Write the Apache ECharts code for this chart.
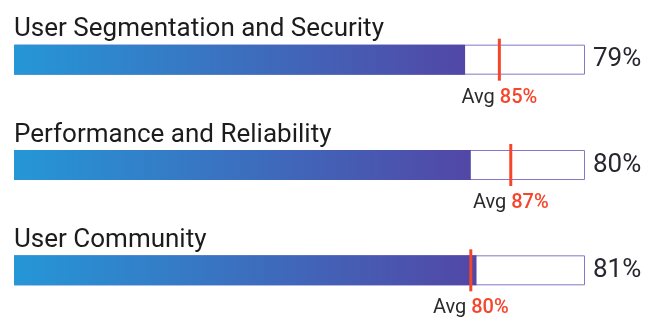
<!DOCTYPE html>
<html>
<head>
<meta charset="utf-8">
<script src="https://cdn.jsdelivr.net/npm/echarts@6/dist/echarts.min.js"></script>
<style>
  html, body { margin: 0; padding: 0; background: #fff; }
  #chart { width: 660px; height: 323px; }
</style>
</head>
<body>
<div id="chart"></div>
<script>
// Scores per area, with the average shown as a marker on each track
const categories = ['User Segmentation and Security', 'Performance and Reliability', 'User Community'];
const scores = [79, 80, 81];
const averages = [85, 87, 80];
const trackMax = [100, 100, 100];

const FONT = 'Roboto';
const chart = echarts.init(document.getElementById('chart'));

chart.setOption({
  animation: false,
  grid: { left: 14, right: 75, top: 7, height: 318, containLabel: false },
  xAxis: { type: 'value', min: 0, max: 100, show: false },
  yAxis: { type: 'category', data: categories, inverse: true, show: false },
  series: [
    {
      // empty track with outline, carries the area title
      type: 'bar',
      data: trackMax,
      barWidth: 30,
      barGap: '-100%',
      z: 1,
      silent: true,
      itemStyle: { color: '#ffffff', borderColor: '#8576c9', borderWidth: 1 },
      label: {
        show: true,
        position: [0, -2],
        align: 'left',
        verticalAlign: 'bottom',
        formatter: p => p.name,
        fontFamily: FONT,
        fontSize: 26,
        color: '#1c1c1c'
      }
    },
    {
      // score bar
      type: 'bar',
      data: scores,
      barWidth: 30,
      barGap: '-100%',
      z: 2,
      silent: true,
      itemStyle: {
        color: new echarts.graphic.LinearGradient(0, 0, 1, 0, [
          { offset: 0, color: '#2597d7' },
          { offset: 1, color: '#5247a6' }
        ])
      },
      label: { show: false }
    },
    {
      // transparent overlay holding the score text right of the track
      type: 'bar',
      data: trackMax,
      barWidth: 30,
      barGap: '-100%',
      z: 3,
      silent: true,
      itemStyle: { color: 'rgba(0,0,0,0)' },
      label: {
        show: true,
        position: 'right',
        distance: 8,
        formatter: p => scores[p.dataIndex] + '%',
        fontFamily: FONT,
        fontSize: 26,
        color: '#272730'
      }
    },
    {
      // average marker
      type: 'scatter',
      data: averages.map((v, i) => [v, categories[i]]),
      symbol: 'rect',
      symbolSize: [3, 42],
      z: 5,
      silent: true,
      itemStyle: { color: '#f5452a', opacity: 1 },
      label: {
        show: true,
        position: 'bottom',
        distance: 7,
        formatter: p => 'Avg {r|' + p.value[0] + '%}',
        fontFamily: FONT,
        fontSize: 20,
        color: '#2b2b2b',
        rich: {
          r: { fontFamily: FONT, fontSize: 20, fontWeight: 500, color: '#f5452a' }
        }
      }
    }
  ]
});
</script>
</body>
</html>
